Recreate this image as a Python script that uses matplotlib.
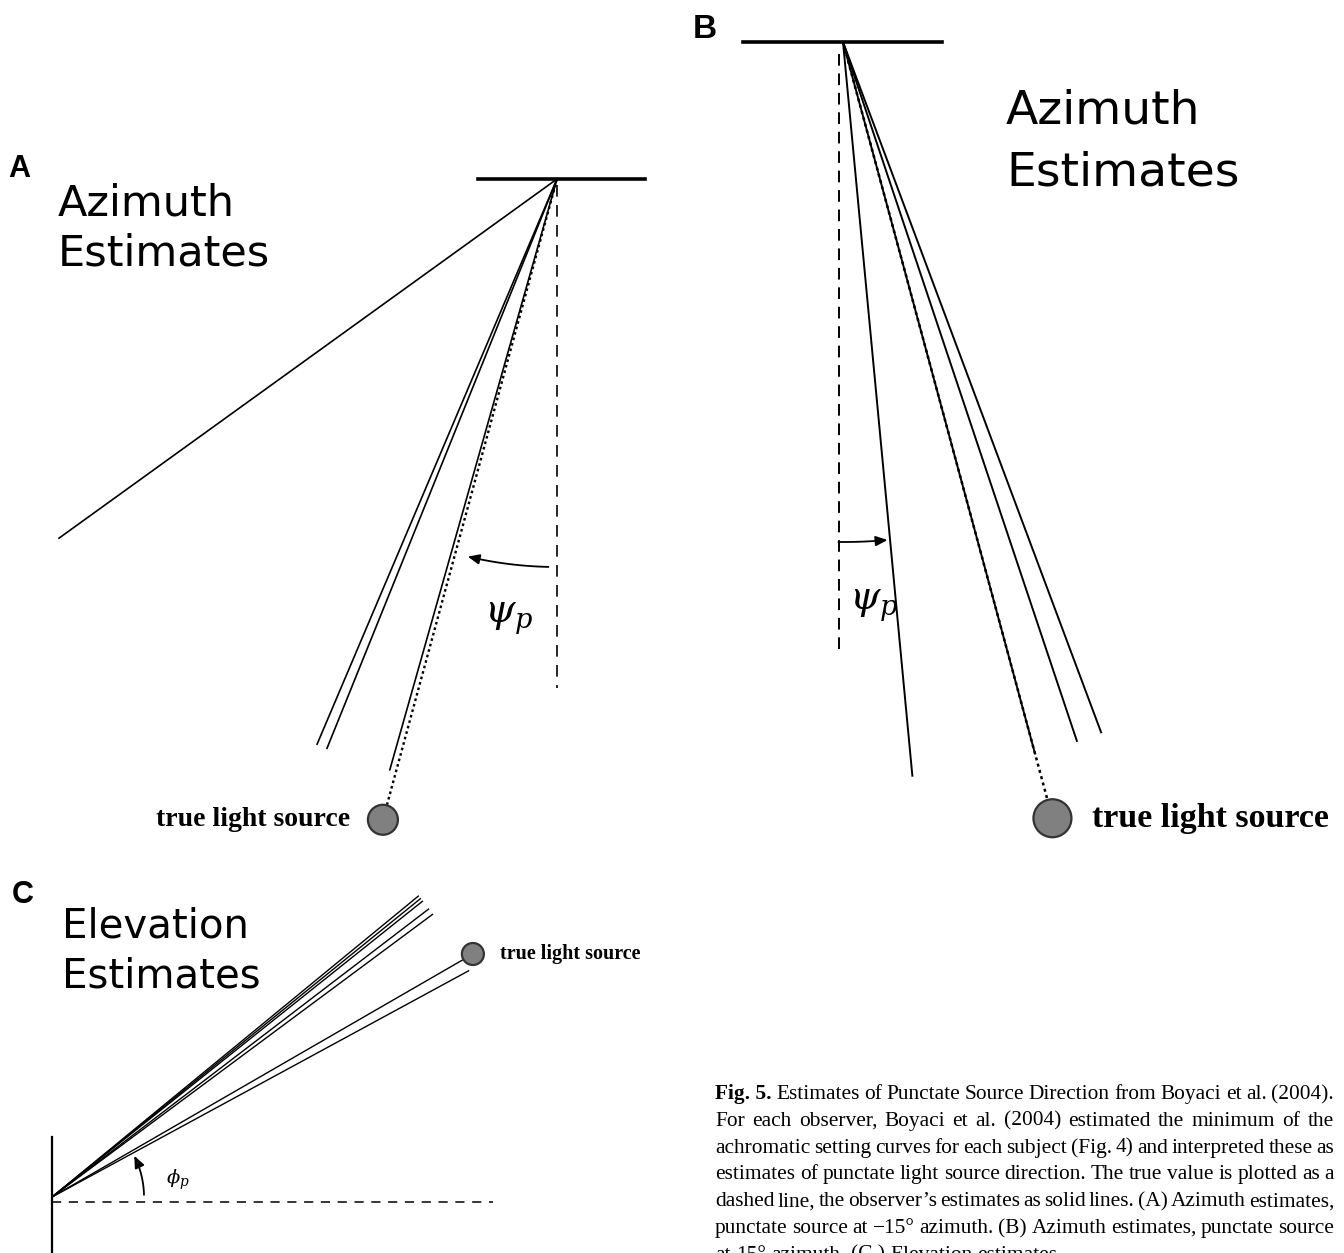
import numpy as np
import matplotlib.pyplot as plt

# estimated directions (degrees)
# A / B: azimuth, measured from the downward vertical (negative = left)
az_a_est = [-54.2, -23.0, -22.0, -15.8]
az_a_true = -15.2
az_b_est = [5.4, 15.1, 18.5, 20.5]
az_b_true = 15.1
# C: elevation above horizontal
el_c_est = [39.4, 39.0, 38.6, 37.4, 36.6, 28.5]
el_c_true = 30.0

caption_lines = [
    "Estimates of Punctate Source Direction from Boyaci et al. (2004).",
    "For each observer, Boyaci et al. (2004) estimated the minimum of the",
    "achromatic setting curves for each subject (Fig. 4) and interpreted these as",
    "estimates of punctate light source direction. The true value is plotted as a",
    "dashed line, the observer\u2019s estimates as solid lines. (A) Azimuth estimates,",
    "punctate source at \u221215\u00b0 azimuth. (B) Azimuth estimates, punctate source",
    "at 15\u00b0 azimuth. (C.) Elevation estimates.",
]

W, H = 1344, 1253
fig = plt.figure(figsize=(W / 100, H / 100), dpi=100)
ax = fig.add_axes([0, 0, 1, 1])
ax.set_xlim(0, W)
ax.set_ylim(H, 0)
ax.axis('off')

SANS = 'DejaVu Sans'
SERIF = 'Liberation Serif'
LAB = 'Liberation Sans'


def down_ray(o, ang, r):
    a = np.radians(ang)
    return o[0] + r * np.sin(a), o[1] + r * np.cos(a)


def up_ray(o, ang, r):
    a = np.radians(ang)
    return o[0] + r * np.cos(a), o[1] - r * np.sin(a)


def arc(o, a0, a1, r, fn):
    angs = np.linspace(a0, a1, 40)
    pts = np.array([fn(o, a, r) for a in angs])
    ax.plot(pts[:-3, 0], pts[:-3, 1], color='k', lw=1.3)
    ax.annotate('', xy=pts[-1], xytext=pts[-4],
                arrowprops=dict(arrowstyle='-|>,head_length=0.7,head_width=0.3',
                                color='k', lw=1.3, shrinkA=0, shrinkB=0))


def source(c, rad, label, fs, dx):
    ax.add_patch(plt.Circle(c, rad, facecolor='#808080', edgecolor='#333333', lw=1.6, zorder=5))
    ax.text(c[0] + dx, c[1], label, fontsize=fs, fontweight='bold', family=SERIF,
            ha='left' if dx > 0 else 'right', va='center')


# ---------- panel A ----------
oa = (557, 179)
ax.plot([478, 645], [oa[1], oa[1]], color='k', lw=2.6)
ax.plot([oa[0], oa[0]], [oa[1] + 6, oa[1] + 509], color='k', lw=1.2, dashes=(7, 5))
for a in az_a_est:
    x, y = down_ray(oa, a, 614)
    ax.plot([oa[0], x], [oa[1], y], color='k', lw=1.2)
ca = down_ray(oa, az_a_true, 664)
x, y = down_ray(oa, az_a_true, 649)
ax.plot([oa[0], x], [oa[1], y], color='k', lw=1.7, dashes=(1.1, 1.3))
source(ca, 15, 'true light source', 20, -33)
arc(oa, -1.3, -13.3, 388, down_ray)
ax.text(484, 618, r'$\psi_p$', fontsize=28, math_fontfamily='dejavuserif',
        ha='left', va='center')
ax.text(8, 177, 'A', fontsize=22, fontweight='bold', family=LAB, va='baseline')
ax.text(58, 215, 'Azimuth', fontsize=31, family=SANS, va='baseline')
ax.text(58, 266, 'Estimates', fontsize=31, family=SANS, va='baseline')

# ---------- panel B ----------
ob = (843, 42)
ax.plot([743, 942], [ob[1], ob[1]], color='k', lw=2.6)
ax.plot([ob[0] - 4, ob[0] - 4], [ob[1] + 12, ob[1] + 613], color='k', lw=1.4, dashes=(6, 4))
for a in az_b_est:
    x, y = down_ray(ob, a, 737)
    ax.plot([ob[0], x], [ob[1], y], color='k', lw=1.4)
cb = down_ray(ob, az_b_true, 804)
x, y = down_ray(ob, az_b_true, 785)
ax.plot([ob[0], x], [ob[1], y], color='k', lw=1.8, dashes=(1.2, 1.4))
source(cb, 19, 'true light source', 24.5, 40)
arc(ob, -0.5, 5.1, 500, down_ray)
ax.text(849, 605, r'$\psi_p$', fontsize=28, math_fontfamily='dejavuserif',
        ha='left', va='center')
ax.text(693, 38, 'B', fontsize=24, fontweight='bold', family=LAB, va='baseline')
ax.text(1006, 124, 'Azimuth', fontsize=34, family=SANS, va='baseline')
ax.text(1006, 186, 'Estimates', fontsize=34, family=SANS, va='baseline')

# ---------- panel C ----------
oc = (52, 1197)
ax.plot([oc[0], oc[0]], [1137, 1260], color='k', lw=1.6)
ax.plot([oc[0], 493], [1202, 1202], color='k', lw=1.1, dashes=(6, 5))
for a in el_c_est:
    x, y = up_ray(oc, a, 474)
    ax.plot([oc[0], x], [oc[1], y], color='k', lw=1.0)
cc = up_ray(oc, el_c_true, 486)
x, y = up_ray(oc, el_c_true, 475)
ax.plot([oc[0], x], [oc[1], y], color='k', lw=1.0)
source(cc, 11, 'true light source', 14.5, 27)
arc(oc, 1.5, 26.5, 92, up_ray)
ax.text(166, 1180, r'$\phi_p$', fontsize=14, math_fontfamily='dejavuserif',
        ha='left', va='center')
ax.text(12, 903, 'C', fontsize=22, fontweight='bold', family=LAB, va='baseline')
ax.text(62, 937, 'Elevation', fontsize=29, family=SANS, va='baseline')
ax.text(62, 987, 'Estimates', fontsize=29, family=SANS, va='baseline')

# ---------- caption (justified) ----------
renderer = fig.canvas.get_renderer()
x0, x1 = 715, 1334
base0, step = 1099, 26.8
cap_fs = 15.4
for i, line in enumerate(caption_lines):
    yb = base0 + i * step
    words = [(w, 'normal') for w in line.split(' ')]
    if i == 0:
        words = [('Fig. 5.', 'bold')] + words
    texts = [ax.text(0, yb, w, fontsize=cap_fs, family=SERIF, fontweight=fw, va='baseline')
             for w, fw in words]
    widths = [t.get_window_extent(renderer).width for t in texts]
    if i == len(caption_lines) - 1:
        gap = 0.25 * cap_fs * 1.389
    else:
        gap = (x1 - x0 - sum(widths)) / (len(texts) - 1)
    x = x0
    for t, w in zip(texts, widths):
        t.set_x(x)
        x += w + gap

fig.savefig('out.png', dpi=100)
